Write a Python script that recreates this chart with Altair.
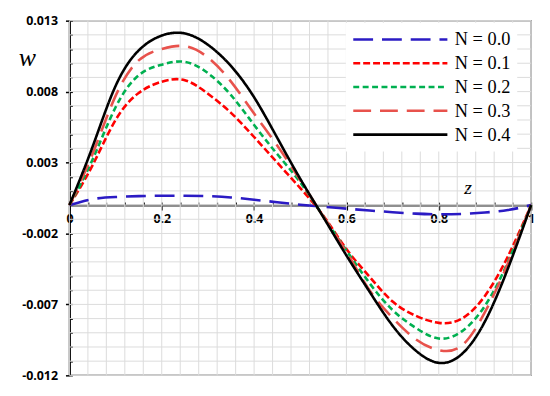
import altair as alt
import pandas as pd

# ---------------- data ----------------
z = [0.0, 0.05, 0.1, 0.15, 0.2, 0.25, 0.3, 0.35, 0.4, 0.45, 0.5,
     0.55, 0.6, 0.65, 0.7, 0.75, 0.8, 0.85, 0.9, 0.95, 1.0]

w_n00 = [0.0, 0.00042, 0.00057, 0.00063, 0.00066, 0.00066, 0.00063, 0.00054, 0.00038, 0.00020, 0.00003,
         -0.00012, -0.00025, -0.00038, -0.00050, -0.00060, -0.00065, -0.00062, -0.00052, -0.00035, 0.0]
w_n01 = [0.0, 0.0028, 0.0060, 0.0079, 0.0087, 0.0088, 0.00785, 0.0065, 0.0048, 0.0030, 0.0012,
         -0.00075, -0.0031, -0.00505, -0.0068, -0.0078, -0.0083, -0.0080, -0.0064, -0.0036, 0.0]
w_n02 = [0.0, 0.0032, 0.0069, 0.00915, 0.0099, 0.0101, 0.0093, 0.00775, 0.00565, 0.0036, 0.0016,
         -0.0008, -0.0032, -0.0055, -0.0074, -0.00865, -0.0094, -0.0089, -0.0071, -0.0040, 0.0]
w_n03 = [0.0, 0.0036, 0.0077, 0.0102, 0.0110, 0.0112, 0.0104, 0.0087, 0.00645, 0.0042, 0.00175,
         -0.0008, -0.0033, -0.0060, -0.00795, -0.00945, -0.01022, -0.0099, -0.00755, -0.0041, 0.0]
w_n04 = [0.0, 0.0041, 0.0084, 0.0109, 0.01195, 0.0121, 0.0113, 0.0098, 0.0076, 0.00475, 0.00185,
         -0.00085, -0.00355, -0.0061, -0.0085, -0.01025, -0.01112, -0.0105, -0.0082, -0.00445, 0.0]

series_names = ["N = 0.0", "N = 0.1", "N = 0.2", "N = 0.3", "N = 0.4"]
series_values = [w_n00, w_n01, w_n02, w_n03, w_n04]

x_major = [0, 0.2, 0.4, 0.6, 0.8, 1]
y_major = [0.013, 0.008, 0.003, -0.002, -0.007, -0.012]
x_minor = [round(i * 0.04, 2) for i in range(26)]
y_minor = [round(-0.012 + i * 0.001, 3) for i in range(26)]

# ---------------- styles ----------------
colors = ["#2B1BC4", "#FF0000", "#00B050", "#E8524C", "#000000"]
dashes = [[20, 9], [7, 3], [6, 3.5], [18, 9], [1, 0]]

W = 466
H = 358
x_dom = [0, 1]
y_dom = [-0.012, 0.013]
zero_frac = 0.013 / 0.025  # fraction of height above zero line

rows = []
for name, vals in zip(series_names, series_values):
    for zz, ww in zip(z, vals):
        rows.append({"z": zz, "w": ww, "series": name})
df = pd.DataFrame(rows)

xs = alt.Scale(domain=x_dom, nice=False, zero=False)
ys = alt.Scale(domain=y_dom, nice=False, zero=False)

legend = alt.Legend(
    title=None, orient="none", legendX=279, legendY=2,
    symbolType="stroke", symbolSize=9025, symbolStrokeWidth=2.6,
    clipHeight=22, labelFont="Liberation Serif", labelFontSize=18.5,
    labelColor="black", labelOffset=6, fillColor="white", padding=6,
)

lab_font = "Open Sans"

lines = alt.Chart(df).mark_line(strokeWidth=2.6, interpolate="natural").encode(
    x=alt.X("z:Q", scale=xs, axis=alt.Axis(
        orient="bottom", offset=-(1 - zero_frac) * H, values=x_major,
        tickSize=5, tickColor="black", tickWidth=1.5,
        domainColor="#222222", domainWidth=1.8,
        labelFont=lab_font, labelFontWeight="bold", labelFontSize=12.5, labelColor="black",
        labelFlush=False, labelOverlap=False, labelPadding=3,
        labelExpr="'' + datum.value", grid=False,
        title="z", titleFont="Liberation Serif", titleFontStyle="italic",
        titleFontWeight="normal", titleFontSize=20, titleColor="black",
        titleX=402, titleY=-18, titleAlign="center", titleBaseline="middle")),
    y=alt.Y("w:Q", scale=ys, axis=alt.Axis(
        orient="left", values=y_major, tickSize=4, tickColor="black", tickWidth=1.5,
        domainColor="black", domainWidth=2,
        labelFont=lab_font, labelFontWeight="bold", labelFontSize=12.5, labelColor="black",
        labelPadding=8, labelOverlap=False, labelExpr="'' + datum.value", grid=False,
        title="w", titleAngle=0, titleFont="Liberation Serif", titleFontStyle="italic",
        titleFontWeight="normal", titleFontSize=26, titleColor="black",
        titleX=-43, titleY=37, titleAlign="center", titleBaseline="middle")),
    color=alt.Color("series:N", scale=alt.Scale(domain=series_names, range=colors), legend=legend),
    strokeDash=alt.StrokeDash("series:N", scale=alt.Scale(domain=series_names, range=dashes), legend=legend),
)

grid_x = alt.Chart(pd.DataFrame({"gx": x_minor})).mark_rule(color="#dcdcdc", strokeWidth=1).encode(
    x=alt.X("gx:Q", scale=xs, axis=alt.Axis(
        orient="top", offset=-zero_frac * H, values=x_minor, tickSize=3,
        tickColor="black", tickWidth=1.2, labels=False, domain=False, grid=False, title=None))
)

grid_y = alt.Chart(pd.DataFrame({"gy": y_minor})).mark_rule(color="#dcdcdc", strokeWidth=1).encode(
    y=alt.Y("gy:Q", scale=ys, axis=alt.Axis(
        orient="right", offset=-W, values=y_minor, tickSize=3,
        tickColor="black", tickWidth=1.2, labels=False, domain=False, grid=False, title=None))
)

chart = alt.layer(grid_x, grid_y, lines).resolve_axis(
    x="independent", y="independent"
).properties(
    width=W, height=H,
    padding={"left": 10, "top": 5, "right": 5, "bottom": 5},
).configure_view(stroke="#8a8a8a", strokeWidth=1.5)

chart.save("out.html", embed_options={"renderer": "svg", "actions": False})
